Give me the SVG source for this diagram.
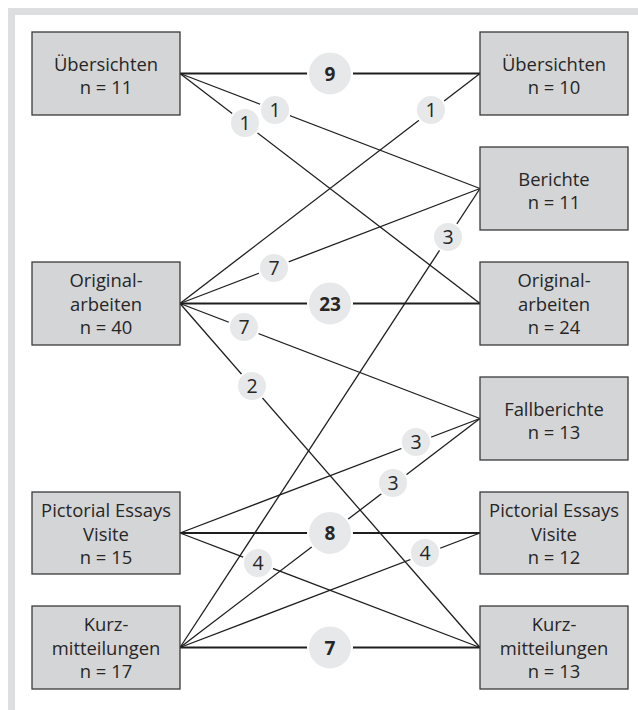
<svg xmlns="http://www.w3.org/2000/svg" width="638" height="710" viewBox="0 0 638 710">
<style>
.frame{fill:#dddee0}
.node rect{fill:#d4d5d7;stroke:#3a3a3a;stroke-width:1.3}
.node text{font-family:"Open Sans","Noto Sans",sans-serif;font-size:18.4px;fill:#262626;text-anchor:middle}
.c line{stroke:#1e1e1e;stroke-width:1.3}
.c line.b{stroke-width:2}
.lbl circle{fill:#e7e8e9;stroke:#fff;stroke-width:2}
.lbl text{font-family:"Open Sans","Noto Sans",sans-serif;font-size:19.5px;fill:#262626;text-anchor:middle}
.lbl text.b{font-weight:bold;font-size:19px}
</style>
<rect width="638" height="710" fill="#fff"/>
<rect class="frame" x="8" y="8" width="630" height="7"/>
<rect class="frame" x="8" y="8" width="7" height="702"/>
<g class="c" id="connectors">
<line class="b" x1="180" y1="73.5" x2="480" y2="73.5"/>
<line x1="180" y1="73.5" x2="480" y2="188.5"/>
<line x1="180" y1="73.5" x2="480" y2="303.5"/>
<line x1="180" y1="303.5" x2="480" y2="73.5"/>
<line x1="180" y1="303.5" x2="480" y2="188.5"/>
<line class="b" x1="180" y1="303.5" x2="480" y2="303.5"/>
<line x1="180" y1="303.5" x2="480" y2="418.5"/>
<line x1="180" y1="303.5" x2="480" y2="647.5"/>
<line x1="180" y1="533" x2="480" y2="418.5"/>
<line class="b" x1="180" y1="533" x2="480" y2="533"/>
<line x1="180" y1="533" x2="480" y2="647.5"/>
<line x1="180" y1="647.5" x2="480" y2="188.5"/>
<line x1="180" y1="647.5" x2="480" y2="418.5"/>
<line x1="180" y1="647.5" x2="480" y2="533"/>
<line class="b" x1="180" y1="647.5" x2="480" y2="647.5"/>
</g>
<g class="lbl" id="labels">
<g><circle cx="330" cy="73.5" r="22"/><text class="b" x="330" y="80.5">9</text></g>
<g><circle cx="275" cy="110" r="15"/><text x="275" y="117">1</text></g>
<g><circle cx="245" cy="123" r="15"/><text x="245" y="130">1</text></g>
<g><circle cx="431" cy="110" r="15"/><text x="431" y="117">1</text></g>
<g><circle cx="274" cy="268" r="15"/><text x="274" y="275">7</text></g>
<g><circle cx="330" cy="303.5" r="22"/><text class="b" x="330" y="310.5">23</text></g>
<g><circle cx="244" cy="327" r="15"/><text x="244" y="334">7</text></g>
<g><circle cx="252" cy="386" r="15"/><text x="252" y="393">2</text></g>
<g><circle cx="448" cy="237" r="15"/><text x="448" y="244">3</text></g>
<g><circle cx="416" cy="442" r="15"/><text x="416" y="449">3</text></g>
<g><circle cx="393" cy="483" r="15"/><text x="393" y="490">3</text></g>
<g><circle cx="330" cy="533" r="22"/><text class="b" x="330" y="540">8</text></g>
<g><circle cx="425" cy="553" r="15"/><text x="425" y="560">4</text></g>
<g><circle cx="258" cy="563" r="15"/><text x="258" y="570">4</text></g>
<g><circle cx="330" cy="647.5" r="22"/><text class="b" x="330" y="654.5">7</text></g>
</g>
<g class="node" id="l-uebersichten"><rect x="32" y="32" width="148" height="83"/><text x="106" y="71">Übersichten</text><text x="106" y="94">n = 11</text></g>
<g class="node" id="l-original"><rect x="32" y="262" width="148" height="83"/><text x="106" y="287">Original-</text><text x="106" y="310.5">arbeiten</text><text x="106" y="334">n = 40</text></g>
<g class="node" id="l-pictorial"><rect x="32" y="492" width="148" height="82"/><text x="106" y="517">Pictorial Essays</text><text x="106" y="540.5">Visite</text><text x="106" y="564">n = 15</text></g>
<g class="node" id="l-kurz"><rect x="32" y="606" width="148" height="83"/><text x="106" y="631">Kurz-</text><text x="106" y="654.5">mitteilungen</text><text x="106" y="678">n = 17</text></g>
<g class="node" id="r-uebersichten"><rect x="480" y="32" width="148" height="83"/><text x="554" y="71">Übersichten</text><text x="554" y="94">n = 10</text></g>
<g class="node" id="r-berichte"><rect x="480" y="147" width="148" height="83"/><text x="554" y="186">Berichte</text><text x="554" y="209">n = 11</text></g>
<g class="node" id="r-original"><rect x="480" y="262" width="148" height="83"/><text x="554" y="287">Original-</text><text x="554" y="310.5">arbeiten</text><text x="554" y="334">n = 24</text></g>
<g class="node" id="r-fallberichte"><rect x="480" y="377" width="148" height="83"/><text x="554" y="416">Fallberichte</text><text x="554" y="439">n = 13</text></g>
<g class="node" id="r-pictorial"><rect x="480" y="492" width="148" height="82"/><text x="554" y="517">Pictorial Essays</text><text x="554" y="540.5">Visite</text><text x="554" y="564">n = 12</text></g>
<g class="node" id="r-kurz"><rect x="480" y="606" width="148" height="83"/><text x="554" y="631">Kurz-</text><text x="554" y="654.5">mitteilungen</text><text x="554" y="678">n = 13</text></g>
</svg>
